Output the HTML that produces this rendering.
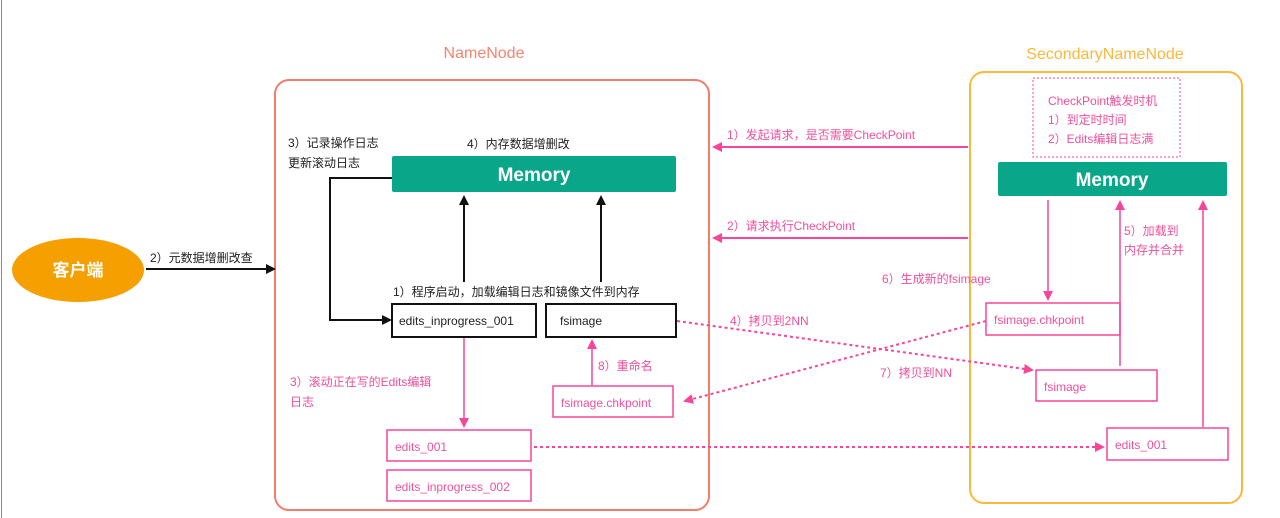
<!DOCTYPE html>
<html><head><meta charset="utf-8"><style>
html,body{margin:0;padding:0;background:#fff;}
svg{display:block;}
text{font-family:"Liberation Sans","Noto Sans CJK SC",sans-serif;}
</style></head><body>
<svg width="1280" height="518" viewBox="0 0 1280 518" xmlns="http://www.w3.org/2000/svg">
<defs>
<marker id="ab" markerWidth="10" markerHeight="10" refX="8" refY="5" orient="auto" markerUnits="userSpaceOnUse"><path d="M0,0 L10,5 L0,10 z" fill="#111"/></marker>
<marker id="ap" markerWidth="10" markerHeight="10" refX="8" refY="5" orient="auto" markerUnits="userSpaceOnUse"><path d="M0,0 L10,5 L0,10 z" fill="#f5469a"/></marker>
</defs>
<line x1="1.5" y1="0" x2="1.5" y2="518" stroke="#888" stroke-width="1"/>
<!-- titles -->
<text x="484" y="58" font-size="16" fill="#f4856f" text-anchor="middle">NameNode</text>
<text x="1105" y="59" font-size="16" fill="#f9b93b" text-anchor="middle">SecondaryNameNode</text>
<rect x="275" y="80" width="434" height="430" rx="14" fill="none" stroke="#f47c6e" stroke-width="2"/>
<rect x="970" y="72" width="272" height="431" rx="14" fill="none" stroke="#f9b93b" stroke-width="2"/>
<!-- client -->
<ellipse cx="78" cy="270" rx="66" ry="32" fill="#f5a000"/>
<text x="78" y="276" font-size="17" fill="#fff" text-anchor="middle" font-weight="bold">客户端</text>
<line x1="146" y1="269" x2="274" y2="269" stroke="#111" stroke-width="2" marker-end="url(#ab)"/>
<text x="150" y="262" font-size="12" fill="#222">2）元数据增删改查</text>
<!-- NN -->
<text x="288" y="147" font-size="12" fill="#222">3）记录操作日志</text>
<text x="288" y="167" font-size="12" fill="#222">更新滚动日志</text>
<text x="467" y="148" font-size="12" fill="#222">4）内存数据增删改</text>
<rect x="392" y="156" width="284" height="36" rx="2" fill="#0aa689"/>
<text x="534" y="181" font-size="19" fill="#fff" text-anchor="middle" font-weight="bold">Memory</text>
<polyline points="392,178 330,178 330,320 390,320" fill="none" stroke="#111" stroke-width="2" marker-end="url(#ab)"/>
<line x1="464" y1="282" x2="464" y2="197" stroke="#111" stroke-width="2" marker-end="url(#ab)"/>
<line x1="601" y1="282" x2="601" y2="197" stroke="#111" stroke-width="2" marker-end="url(#ab)"/>
<text x="393" y="296" font-size="12" fill="#222">1）程序启动，加载编辑日志和镜像文件到内存</text>
<rect x="392" y="304" width="144" height="33" fill="#fff" stroke="#111" stroke-width="2"/>
<text x="399" y="325" font-size="12" fill="#222">edits_inprogress_001</text>
<rect x="546" y="304" width="130" height="33" fill="#fff" stroke="#111" stroke-width="2"/>
<text x="560" y="325" font-size="12" fill="#222">fsimage</text>
<line x1="464" y1="338" x2="464" y2="426" stroke="#f5469a" stroke-width="1.5" marker-end="url(#ap)"/>
<text x="290" y="386" font-size="12" fill="#f0509b">3）滚动正在写的Edits编辑</text>
<text x="290" y="406" font-size="12" fill="#f0509b">日志</text>
<rect x="387" y="430" width="144" height="31" fill="#fff" stroke="#f5469a" stroke-width="1.5"/>
<text x="395" y="451" font-size="12" fill="#f0509b">edits_001</text>
<rect x="387" y="470" width="144" height="31" fill="#fff" stroke="#f5469a" stroke-width="1.5"/>
<text x="395" y="491" font-size="12" fill="#f0509b">edits_inprogress_002</text>
<rect x="553" y="386" width="120" height="31" fill="#fff" stroke="#f5469a" stroke-width="1.5"/>
<text x="561" y="407" font-size="12" fill="#f0509b">fsimage.chkpoint</text>
<line x1="592" y1="386" x2="592" y2="341" stroke="#f5469a" stroke-width="1.5" marker-end="url(#ap)"/>
<text x="598" y="370" font-size="12" fill="#f0509b">8）重命名</text>
<!-- SNN -->
<rect x="1033" y="78" width="147" height="79" fill="none" stroke="#f5469a" stroke-width="1" stroke-dasharray="2,2"/>
<text x="1048" y="105" font-size="12" fill="#f0509b">CheckPoint触发时机</text>
<text x="1048" y="124" font-size="12" fill="#f0509b">1）到定时时间</text>
<text x="1048" y="143" font-size="12" fill="#f0509b">2）Edits编辑日志满</text>
<rect x="998" y="162" width="229" height="34" rx="2" fill="#0aa689"/>
<text x="1112" y="186" font-size="19" fill="#fff" text-anchor="middle" font-weight="bold">Memory</text>
<line x1="968" y1="147" x2="714" y2="147" stroke="#f5469a" stroke-width="2" marker-end="url(#ap)"/>
<text x="727" y="139" font-size="12" fill="#f0509b">1）发起请求，是否需要CheckPoint</text>
<line x1="968" y1="238" x2="714" y2="238" stroke="#f5469a" stroke-width="2" marker-end="url(#ap)"/>
<text x="727" y="230" font-size="12" fill="#f0509b">2）请求执行CheckPoint</text>
<line x1="1048" y1="200" x2="1048" y2="299" stroke="#f5469a" stroke-width="1.5" marker-end="url(#ap)"/>
<text x="882" y="283" font-size="12" fill="#f0509b">6）生成新的fsimage</text>
<rect x="986" y="303" width="134" height="32" fill="#fff" stroke="#f5469a" stroke-width="1.5"/>
<text x="994" y="324" font-size="12" fill="#f0509b">fsimage.chkpoint</text>
<line x1="1120" y1="366" x2="1120" y2="202" stroke="#f5469a" stroke-width="1.5" marker-end="url(#ap)"/>
<text x="1124" y="235" font-size="12" fill="#f0509b">5）加载到</text>
<text x="1124" y="254" font-size="12" fill="#f0509b">内存并合并</text>
<rect x="1036" y="370" width="121" height="31" fill="#fff" stroke="#f5469a" stroke-width="1.5"/>
<text x="1044" y="391" font-size="12" fill="#f0509b">fsimage</text>
<line x1="1203" y1="427" x2="1203" y2="202" stroke="#f5469a" stroke-width="1.5" marker-end="url(#ap)"/>
<rect x="1107" y="428" width="121" height="32" fill="#fff" stroke="#f5469a" stroke-width="1.5"/>
<text x="1115" y="449" font-size="12" fill="#f0509b">edits_001</text>
<!-- dotted -->
<line x1="677" y1="321" x2="1032" y2="370" stroke="#f5469a" stroke-width="2" stroke-dasharray="3,3" marker-end="url(#ap)"/>
<text x="730" y="325" font-size="12" fill="#f0509b">4）拷贝到2NN</text>
<line x1="986" y1="321" x2="685" y2="401" stroke="#f5469a" stroke-width="2" stroke-dasharray="3,3" marker-end="url(#ap)"/>
<text x="880" y="377" font-size="12" fill="#f0509b">7）拷贝到NN</text>
<line x1="534" y1="447" x2="1103" y2="447" stroke="#f5469a" stroke-width="2" stroke-dasharray="3,3" marker-end="url(#ap)"/>
</svg>
</body></html>
